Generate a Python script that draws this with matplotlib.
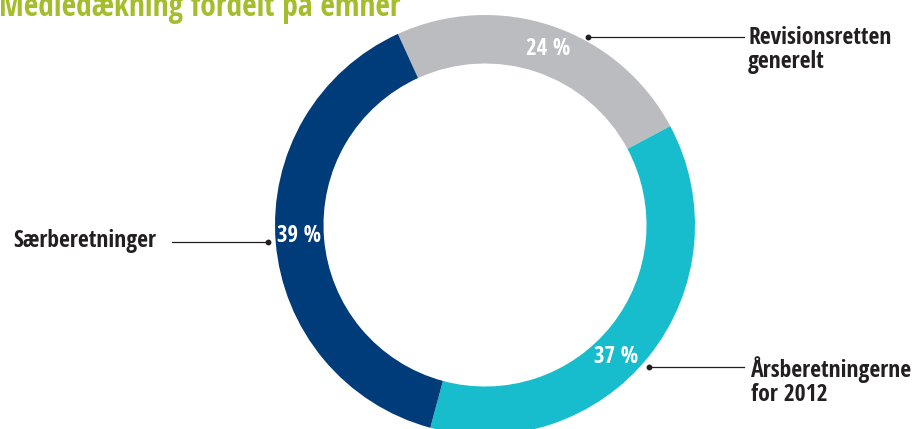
import matplotlib
matplotlib.use('Agg')
import matplotlib.pyplot as plt

# data
categories = ['Revisionsretten\ngenerelt', 'Årsberetningerne\nfor 2012', 'Særberetninger']
shares = [24, 37, 39]
colors = ['#BBBCC0', '#17BDCC', '#003B7A']
title = 'Mediedækning fordelt på emner'

W, H = 917, 429
FONT = ['Open Sans Condensed', 'DejaVu Sans']
DARK = '#231F20'


def Y(y):
    # pixel row -> data y (axes spans the whole figure, y up)
    return H - y


fig = plt.figure(figsize=(W / 100, H / 100), dpi=100)
ax = fig.add_axes([0, 0, 1, 1])

cx, cy, R = 485, 225, 210
ax.pie(shares, colors=colors, startangle=114.5, counterclock=False,
       radius=R, center=(cx, Y(cy)),
       wedgeprops=dict(width=48.5, edgecolor='none', linewidth=0))
ax.set_xlim(0, W)
ax.set_ylim(0, H)
ax.set_aspect('auto')
ax.axis('off')

# percentages inside the ring
pct_pos = [(548, 49), (616, 357), (299, 236)]
for v, (px, py) in zip(shares, pct_pos):
    ax.text(px, Y(py), f'{v} %', color='white', fontsize=16.5, fontweight='bold',
            family=FONT, ha='center', va='center')

# outside labels with leader lines (y = baseline of the last line)
lab_pos = [(748, 68, 'left'), (751, 401, 'left'), (156, 247, 'right')]
leaders = [((588, 37), (744, 37)), ((649, 367), (744, 367)), ((268, 242), (172, 242))]
for name, (tx, ty, ha), (p0, p1) in zip(categories, lab_pos, leaders):
    ax.plot([p0[0], p1[0]], [Y(p0[1]), Y(p1[1])], color=DARK, lw=0.9)
    ax.plot(p0[0], Y(p0[1]), 'o', color=DARK, ms=3.2)
    ax.text(tx, Y(ty), name, color=DARK, fontsize=17, fontweight='bold',
            family=FONT, ha=ha, va='baseline', linespacing=1.0)

# title (cut off at the top like the original)
ax.text(-1, Y(16), title, color='#A5BD2A', fontsize=22.7, fontweight='bold',
        family=FONT, ha='left', va='baseline')

fig.savefig('out.png', dpi=100)
